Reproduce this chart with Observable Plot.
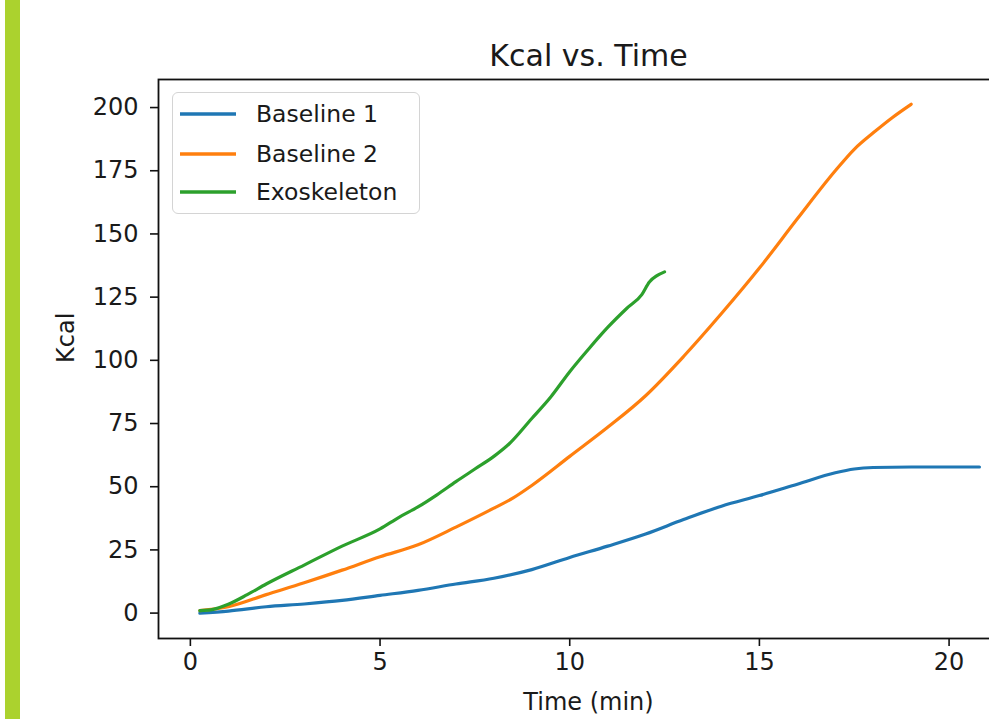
<!DOCTYPE html>
<html>
<head>
<meta charset="utf-8">
<script src="https://cdn.jsdelivr.net/npm/d3@7"></script>
<script src="https://cdn.jsdelivr.net/npm/@observablehq/plot@0.6"></script>
<style>
  html, body { margin: 0; padding: 0; background: #fff; overflow: hidden; }
  #wrap { position: relative; width: 989px; height: 719px; overflow: hidden; font-family: "DejaVu Sans", sans-serif; }
  #bar { position: absolute; left: 5px; top: 0; width: 15px; height: 719px; background: #abd22e; }
  #chart { position: absolute; left: 0; top: 0; width: 1030px; }
  #chart svg { max-width: none !important; width: 1030px; height: 719px; }
  #legend { position: absolute; left: 172px; top: 92px; width: 248px; height: 122px; border: 1.5px solid #d4d4d4; border-radius: 6px; background: #fff; box-sizing: border-box; }
  .row { position: absolute; left: 0; height: 30px; display: flex; align-items: center; }
  .row svg { margin-left: 7px; }
  .row span { margin-left: 20px; font-size: 23.5px; color: #1a1a1a; }
</style>
</head>
<body>
<div id="wrap">
  <div id="bar"></div>
  <div id="chart"></div>
  <div id="legend"></div>
</div>
<script>
const seriesNames = ["Baseline 1", "Baseline 2", "Exoskeleton"];
const seriesColors = ["#1f77b4", "#ff7f0e", "#2ca02c"];

const baseline1Time = [0.25, 1, 2, 3, 4, 5, 6, 7, 8, 9, 10, 11, 12, 13, 14, 15, 16, 17, 17.5, 18, 19, 20, 20.8];
const baseline1Kcal = [0, 0.8, 2.5, 3.6, 5, 7, 9, 11.5, 13.8, 17.2, 22, 26.5, 31.3, 37, 42.3, 46.5, 51, 55.5, 57, 57.6, 57.8, 57.8, 57.8];

const baseline2Time = [0.25, 1, 2, 3, 4, 5, 6, 7, 8, 8.5, 9, 10, 11, 12, 13, 14, 15, 16, 17, 17.5, 18, 18.5, 19];
const baseline2Kcal = [1, 2.5, 7.3, 12, 17, 22.3, 27, 34, 41.5, 45.5, 50.5, 62, 73.5, 86, 101.5, 118.5, 136.5, 156, 175, 183.5, 190, 196, 201.3];

const exoTime = [0.25, 0.6, 1, 1.5, 2, 3, 4, 5, 5.5, 6, 6.5, 7, 7.5, 8, 8.4, 9, 9.5, 10, 10.5, 11, 11.5, 11.9, 12.1, 12.3, 12.5];
const exoKcal = [1, 1.5, 3.5, 7.3, 11.5, 19, 26.5, 33.3, 37.9, 42, 46.8, 52, 57, 62, 66.9, 77, 85.5, 95.5, 104.5, 113, 120.5, 126, 131, 133.5, 135];

const xTicks = [0, 5, 10, 15, 20];
const yTicks = [0, 25, 50, 75, 100, 125, 150, 175, 200];

const titleText = "Kcal vs. Time";
const xLabel = "Time (min)";
const yLabel = "Kcal";

function toRows(name, xs, ys) { return xs.map((t, i) => ({series: name, time: t, kcal: ys[i]})); }
const data = [
  ...toRows(seriesNames[0], baseline1Time, baseline1Kcal),
  ...toRows(seriesNames[1], baseline2Time, baseline2Kcal),
  ...toRows(seriesNames[2], exoTime, exoKcal)
];

const chart = Plot.plot({
  width: 1030,
  height: 719,
  marginTop: 79,
  marginBottom: 81,
  marginLeft: 158,
  marginRight: 12,
  style: { fontFamily: "DejaVu Sans, sans-serif", color: "#1a1a1a", background: "transparent", maxWidth: "none" },
  x: { domain: [-0.84, 21.83] },
  y: { domain: [-10.05, 211.1] },
  color: { domain: seriesNames, range: seriesColors },
  marks: [
    Plot.line(data, { x: "time", y: "kcal", z: "series", stroke: "series", strokeWidth: 3.2, curve: "monotone-x" }),
    Plot.frame({ stroke: "#111", strokeWidth: 1.8 }),
    Plot.axisX({ ticks: xTicks, tickSize: 8, tickPadding: 6, fontSize: 24, label: null, stroke: "#111", strokeWidth: 1.6 }),
    Plot.axisY({ ticks: yTicks, tickSize: 8, tickPadding: 12, fontSize: 24, label: null, stroke: "#111", strokeWidth: 1.6 }),
    Plot.text([titleText], { frameAnchor: "top", dy: -14, lineAnchor: "bottom", fontSize: 30, fill: "#1a1a1a" }),
    Plot.text([xLabel], { frameAnchor: "bottom", dy: 64, lineAnchor: "middle", fontSize: 24, fill: "#1a1a1a" }),
    Plot.text([yLabel], { frameAnchor: "left", dx: -92, dy: 4, rotate: -90, lineAnchor: "middle", fontSize: 24, fill: "#1a1a1a" })
  ]
});
document.getElementById("chart").appendChild(chart);

const legend = document.getElementById("legend");
const rowTops = [6, 46, 84];
seriesNames.forEach((name, i) => {
  const row = document.createElement("div");
  row.className = "row";
  row.style.top = rowTops[i] + "px";
  row.innerHTML = `<svg width="56" height="10"><line x1="0" y1="5" x2="56" y2="5" stroke="${seriesColors[i]}" stroke-width="3.4"/></svg><span>${name}</span>`;
  legend.appendChild(row);
});
</script>
</body>
</html>
